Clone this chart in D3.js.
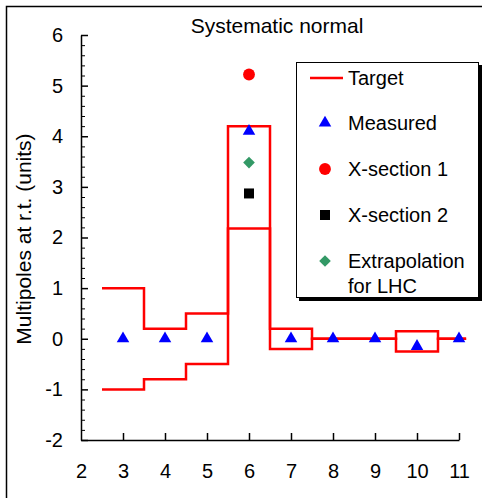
<!DOCTYPE html>
<html>
<head>
<meta charset="utf-8">
<script src="https://cdn.jsdelivr.net/npm/d3@7"></script>
<style>
  body { margin: 0; background: #fff; }
  svg text { font-family: Arial, "Liberation Sans", sans-serif; }
</style>
</head>
<body>
<div id="chart"></div>
<script>
// Target band edges (multipole order) and upper / lower limits
const targetEdges = [2.5, 3.5, 4.5, 5.5, 6.5, 7.5, 8.5, 9.5, 10.5, 11.17];
const targetUpper = [1, 0.2, 0.5, 4.2, 0.2, 0, 0, 0.15, 0];
const targetLower = [-1, -0.8, -0.5, 2.18, -0.2, 0, 0, -0.25, 0];

// Measured values
const measuredOrder = [3, 4, 5, 6, 7, 8, 9, 10, 11];
const measuredValue = [0, 0, 0, 4.1, 0, 0, 0, -0.15, 0];

// Single points at n = 6
const xsection1 = [{ n: 6, v: 5.22 }];
const xsection2 = [{ n: 6, v: 2.87 }];
const extrapolation = [{ n: 6, v: 3.48 }];

const xTicks = [2, 3, 4, 5, 6, 7, 8, 9, 10, 11];
const yTicks = [-2, -1, 0, 1, 2, 3, 4, 5, 6];

const width = 482, height = 498;

const svg = d3.select("#chart").append("svg")
    .attr("width", width)
    .attr("height", height);

// outer frame
svg.append("rect")
    .attr("x", 6.5).attr("y", 6.5)
    .attr("width", 600).attr("height", 600)
    .attr("fill", "none")
    .attr("stroke", "#000")
    .attr("stroke-width", 1.5);

const x = d3.scaleLinear().domain([2, 11]).range([81, 459]);
const y = d3.scaleLinear().domain([-2, 6]).range([440, 35]);

// minor y ticks every 0.2
const minorTicks = d3.range(-2, 6.001, 0.2).map(d => +d.toFixed(1)).filter(d => !yTicks.includes(d));
svg.append("g")
    .attr("transform", `translate(${x(2)},0)`)
    .call(d3.axisLeft(y).tickValues(minorTicks).tickSizeInner(-4).tickSizeOuter(0).tickFormat(""))
    .call(g => g.select(".domain").remove());

const yAxis = svg.append("g")
    .attr("transform", `translate(${x(2)},0)`)
    .call(d3.axisLeft(y).tickValues(yTicks).tickSizeInner(-7).tickSizeOuter(0).tickPadding(18)
        .tickFormat(d => String(d)));

const xAxis = svg.append("g")
    .attr("transform", `translate(0,${y(-2)})`)
    .call(d3.axisBottom(x).tickValues(xTicks).tickSizeInner(-7).tickSizeOuter(0).tickPadding(24)
        .tickFormat(d => String(d)));
xAxis.selectAll(".tick").filter(d => d === 2).select("line").remove();

[yAxis, xAxis].forEach(g => {
    g.selectAll("text").attr("font-size", 20).attr("fill", "#000")
        .style("font-family", "Arial, 'Liberation Sans', sans-serif");
    g.selectAll("line, path").attr("stroke", "#000").attr("stroke-width", 1.5);
});

// title and axis label
svg.append("text")
    .attr("x", 277).attr("y", 33)
    .attr("text-anchor", "middle")
    .attr("font-size", 21)
    .text("Systematic normal");

svg.append("text")
    .attr("transform", "translate(31,239) rotate(-90)")
    .attr("text-anchor", "middle")
    .attr("font-size", 21)
    .text("Multipoles at r.t. (units)");

// target step lines
const stepLine = d3.line()
    .x(d => x(d[0]))
    .y(d => y(d[1]))
    .curve(d3.curveStepAfter);

[targetUpper, targetLower].forEach(vals => {
    const pts = vals.map((v, i) => [targetEdges[i], v]);
    pts.push([targetEdges[targetEdges.length - 1], vals[vals.length - 1]]);
    svg.append("path")
        .attr("d", stepLine(pts))
        .attr("fill", "none")
        .attr("stroke", "#ff0000")
        .attr("stroke-width", 2.5);
});

// markers
const measured = measuredOrder.map((n, i) => ({ n, v: measuredValue[i] }));

function drawPoints(data, symbolType, size, color, rotate) {
    svg.append("g").selectAll("path")
        .data(data)
        .join("path")
        .attr("transform", d => `translate(${x(d.n)},${y(d.v)})` + (rotate ? ` rotate(${rotate})` : ""))
        .attr("d", d3.symbol().type(symbolType).size(size))
        .attr("fill", color);
}

drawPoints(measured, d3.symbolTriangle, 68, "#0000ff");
drawPoints(xsection1, d3.symbolCircle, 110, "#ff0000");
drawPoints(xsection2, d3.symbolSquare, 100, "#000000");
drawPoints(extrapolation, d3.symbolSquare, 68, "#339966", 45);

// legend
const legend = svg.append("g");
legend.append("rect")
    .attr("x", 299).attr("y", 65)
    .attr("width", 183).attr("height", 236)
    .attr("fill", "#000");
legend.append("rect")
    .attr("x", 296.5).attr("y", 62.5)
    .attr("width", 182).attr("height", 235)
    .attr("fill", "#fff")
    .attr("stroke", "#000")
    .attr("stroke-width", 1);

const legendItems = [
    { label: ["Target"], y: 78, kind: "line" },
    { label: ["Measured"], y: 123, sym: d3.symbolTriangle, size: 68, color: "#0000ff" },
    { label: ["X-section 1"], y: 169, sym: d3.symbolCircle, size: 110, color: "#ff0000" },
    { label: ["X-section 2"], y: 215, sym: d3.symbolSquare, size: 100, color: "#000000" },
    { label: ["Extrapolation", "for LHC"], y: 261, sym: d3.symbolSquare, size: 68, color: "#339966", rotate: 45 }
];

legendItems.forEach(item => {
    if (item.kind === "line") {
        legend.append("line")
            .attr("x1", 310).attr("x2", 343)
            .attr("y1", item.y).attr("y2", item.y)
            .attr("stroke", "#ff0000")
            .attr("stroke-width", 2.5);
    } else {
        legend.append("path")
            .attr("transform", `translate(325,${item.y})` + (item.rotate ? ` rotate(${item.rotate})` : ""))
            .attr("d", d3.symbol().type(item.sym).size(item.size))
            .attr("fill", item.color);
    }
    item.label.forEach((t, i) => {
        legend.append("text")
            .attr("x", 348)
            .attr("y", item.y + i * 24.5)
            .attr("dy", "0.35em")
            .attr("font-size", 20)
            .text(t);
    });
});
</script>
</body>
</html>
